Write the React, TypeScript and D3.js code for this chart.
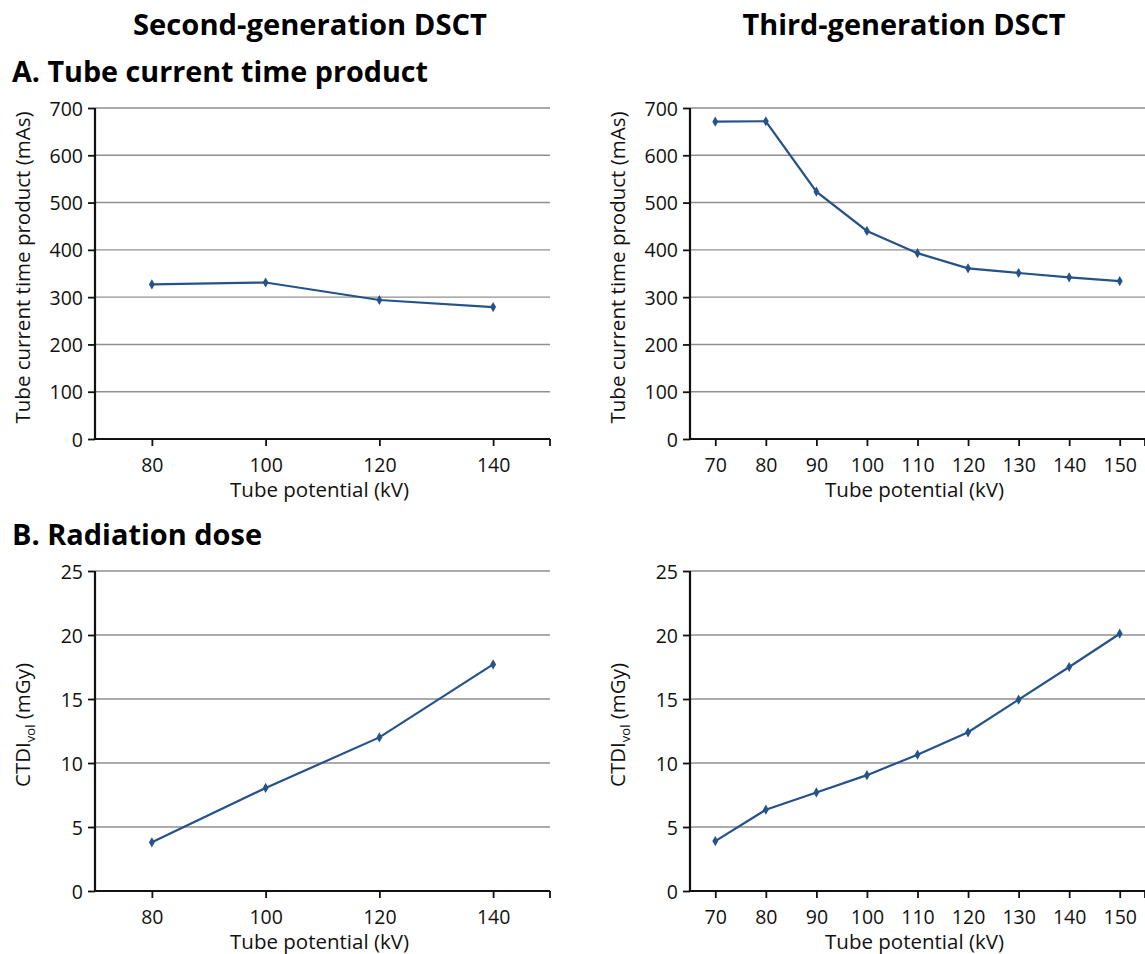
import { useEffect, useRef } from 'react';
import * as d3 from 'd3';

// values
const kv2 = [80, 100, 120, 140];
const kv3 = [70, 80, 90, 100, 110, 120, 130, 140, 150];
const mas2 = [327, 331, 294, 279];
const mas3 = [671, 672, 523, 440, 393, 361, 351, 342, 334];
const ctdi2 = [3.8, 8.05, 12.0, 17.7];
const ctdi3 = [3.9, 6.35, 7.7, 9.05, 10.65, 12.4, 14.95, 17.5, 20.1];
const masTicks = [0, 100, 200, 300, 400, 500, 600, 700];
const doseTicks = [0, 5, 10, 15, 20, 25];

const FONT = "'Open Sans', sans-serif";
const LINE = '#26528a';
const GRID = '#8f8f8f';

interface PanelProps {
  left: number;
  top: number;
  height: number;
  kv: number[];
  values: number[];
  xDomain: [number, number];
  yTicks: number[];
  yLabel: 'mas' | 'ctdi';
}

function Panel({ left, top, height, kv, values, xDomain, yTicks, yLabel }: PanelProps) {
  const gRef = useRef<SVGGElement>(null);
  const width = 455;

  useEffect(() => {
    if (!gRef.current) return;
    const g = d3.select(gRef.current);
    g.selectAll('*').remove();
    g.attr('transform', `translate(${left},${top})`);

    const x = d3.scaleLinear().domain(xDomain).range([0, width]);
    const y = d3.scaleLinear()
      .domain([0, yTicks[yTicks.length - 1]])
      .range([height, 0]);

    // gridlines
    g.selectAll('line.grid')
      .data(yTicks.slice(1))
      .join('line')
      .attr('x1', 0)
      .attr('x2', width)
      .attr('y1', d => y(d))
      .attr('y2', d => y(d))
      .attr('stroke', GRID)
      .attr('stroke-width', 1.4);

    const yAxis = d3.axisLeft(y).tickValues(yTicks).tickSize(7).tickPadding(5);
    const yg = g.append('g').call(yAxis);
    yg.select('.domain').remove();

    const xAxis = d3.axisBottom(x).tickValues(kv).tickSize(7).tickPadding(8).tickFormat(d3.format('d'));
    const xg = g.append('g').attr('transform', `translate(0,${height})`).call(xAxis);
    xg.select('.domain').remove();

    g.selectAll('.tick line').attr('stroke', '#111').attr('stroke-width', 1.8);
    g.selectAll('.tick text')
      .attr('font-family', FONT)
      .attr('font-size', 19.5)
      .attr('fill', '#111');
    yg.selectAll('.tick text').attr('dy', '0.36em');
    xg.selectAll('.tick text').attr('dy', '0.9em');

    // axis lines + end tick
    g.append('line').attr('x1', 0).attr('x2', 0).attr('y1', 0).attr('y2', height)
      .attr('stroke', '#111').attr('stroke-width', 2.2);
    g.append('line').attr('x1', 0).attr('x2', width).attr('y1', height).attr('y2', height)
      .attr('stroke', '#111').attr('stroke-width', 2.2);
    g.append('line').attr('x1', width).attr('x2', width).attr('y1', height).attr('y2', height + 7)
      .attr('stroke', '#111').attr('stroke-width', 1.8);

    const pts = kv.map((k, i) => [k, values[i]] as [number, number]);
    const line = d3.line<[number, number]>().x(d => x(d[0])).y(d => y(d[1]));
    g.append('path')
      .attr('d', line(pts))
      .attr('fill', 'none')
      .attr('stroke', LINE)
      .attr('stroke-width', 2.2);

    g.selectAll('path.mark')
      .data(pts)
      .join('path')
      .attr('class', 'mark')
      .attr('transform', d => `translate(${x(d[0])},${y(d[1])})`)
      .attr('d', d3.symbol(d3.symbolDiamond, 30)())
      .attr('fill', LINE);

    g.append('text')
      .attr('x', width / 2 - 3)
      .attr('y', height + 58)
      .attr('text-anchor', 'middle')
      .attr('font-family', FONT)
      .attr('font-size', 20.5)
      .attr('fill', '#111')
      .text('Tube potential (kV)');

    const yt = g.append('text')
      .attr('transform', `translate(-65,${height / 2 - 6}) rotate(-90)`)
      .attr('text-anchor', 'middle')
      .attr('font-family', FONT)
      .attr('font-size', 20.5)
      .attr('fill', '#111');
    if (yLabel === 'mas') {
      yt.text('Tube current time product (mAs)');
    } else {
      yt.append('tspan').text('CTDI');
      yt.append('tspan').attr('font-size', 13).attr('dy', 5).text('vol');
      yt.append('tspan').attr('dy', -5).text(' (mGy)');
    }
  }, [left, top, height, kv, values, xDomain, yTicks, yLabel]);

  return <g ref={gRef} />;
}

export default function App() {
  const titleStyle = { fontFamily: FONT, fontWeight: 700, fill: '#000' } as const;
  return (
    <svg width={1145} height={954} style={{ position: 'absolute', left: 0, top: 0, background: '#fff' }}>
      <text x={310} y={35} textAnchor="middle" fontSize={29} textLength={354} lengthAdjust="spacingAndGlyphs" style={titleStyle}>
        Second-generation DSCT
      </text>
      <text x={904} y={35} textAnchor="middle" fontSize={29} textLength={323} lengthAdjust="spacingAndGlyphs" style={titleStyle}>
        Third-generation DSCT
      </text>
      <text x={12} y={82} fontSize={29} textLength={416} lengthAdjust="spacingAndGlyphs" style={titleStyle}>
        A. Tube current time product
      </text>
      <text x={12} y={545} fontSize={29} textLength={250} lengthAdjust="spacingAndGlyphs" style={titleStyle}>
        B. Radiation dose
      </text>
      <Panel left={95} top={108} height={331} kv={kv2} values={mas2} xDomain={[70, 150]} yTicks={masTicks} yLabel="mas" />
      <Panel left={690} top={108} height={331} kv={kv3} values={mas3} xDomain={[65, 155]} yTicks={masTicks} yLabel="mas" />
      <Panel left={95} top={571} height={320} kv={kv2} values={ctdi2} xDomain={[70, 150]} yTicks={doseTicks} yLabel="ctdi" />
      <Panel left={690} top={571} height={320} kv={kv3} values={ctdi3} xDomain={[65, 155]} yTicks={doseTicks} yLabel="ctdi" />
    </svg>
  );
}
